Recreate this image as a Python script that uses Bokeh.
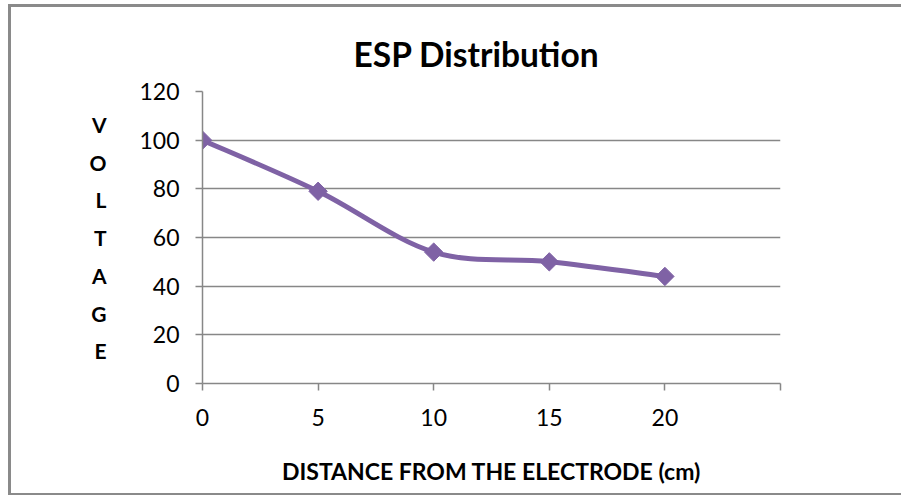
import numpy as np
from bokeh.plotting import figure
from bokeh.models import FixedTicker, Range1d
from bokeh.embed import file_html
from bokeh.resources import INLINE

# ---- data ----
distance = [0, 5, 10, 15, 20]
voltage = [100, 79, 54, 50, 44]
x_ticks = [0, 5, 10, 15, 20, 25]
y_ticks = [0, 20, 40, 60, 80, 100, 120]
title_text = "ESP Distribution"
x_label = "DISTANCE FROM THE ELECTRODE (cm)"
y_letters = ["V", "O", "L", "T", "A", "G", "E"]

FONT = "Lato"
GRID = "#878787"
PURPLE = "#7F62A5"
FRAME = "#8a8a8a"

FW, FH = 578, 292
XMIN, XMAX, YMIN, YMAX = 0, 25, 0, 120

p = figure(
    frame_width=FW, frame_height=FH,
    min_border_left=194, min_border_right=130,
    min_border_top=87, min_border_bottom=112,
    x_range=Range1d(XMIN, XMAX), y_range=Range1d(YMIN, YMAX),
    output_backend="svg", toolbar_location=None, title=title_text,
)
g = f"linear-gradient({FRAME},{FRAME})"
p.styles = {
    "position": "absolute", "left": "8px", "top": "4px",
    "background-color": "white",
    "background-image": f"{g}, {g}, {g}",
    "background-size": "3px 100%, 100% 3px, 100% 2px",
    "background-position": "left top, left top, left bottom",
    "background-repeat": "no-repeat",
}
p.outline_line_color = None
p.background_fill_color = "white"
p.border_fill_color = None

# title
p.title.text_font = FONT
p.title.text_font_style = "bold"
p.title.text_font_size = "33.5px"
p.title.text_color = "black"
p.title.align = "left"
p.title.offset = 151
p.title.standoff = 36

# grid
p.xgrid.grid_line_color = None
p.ygrid.grid_line_color = GRID
p.ygrid.grid_line_width = 1.5
p.ygrid.ticker = FixedTicker(ticks=y_ticks)

# x axis
p.xaxis.ticker = FixedTicker(ticks=x_ticks)
p.xaxis.major_label_overrides = {25: ""}
p.xaxis.axis_line_color = GRID
p.xaxis.axis_line_width = 1.5
p.xaxis.major_tick_line_color = GRID
p.xaxis.major_tick_line_width = 1.5
p.xaxis.major_tick_in = 0
p.xaxis.major_tick_out = 7
p.xaxis.minor_tick_line_color = None
p.xaxis.major_label_text_font = FONT
p.xaxis.major_label_text_font_size = "23px"
p.xaxis.major_label_text_color = "black"
p.xaxis.major_label_standoff = 18
p.xaxis.axis_label = x_label
p.xaxis.axis_label_text_font = FONT
p.xaxis.axis_label_text_font_style = "bold"
p.xaxis.axis_label_text_font_size = "23px"
p.xaxis.axis_label_text_color = "black"
p.xaxis.axis_label_standoff = 28

# y axis
p.yaxis.ticker = FixedTicker(ticks=y_ticks)
p.yaxis.axis_line_color = GRID
p.yaxis.axis_line_width = 1.5
p.yaxis.major_tick_line_color = GRID
p.yaxis.major_tick_line_width = 1.5
p.yaxis.major_tick_in = 0
p.yaxis.major_tick_out = 7
p.yaxis.minor_tick_line_color = None
p.yaxis.major_label_text_font = FONT
p.yaxis.major_label_text_font_size = "23px"
p.yaxis.major_label_text_color = "black"
p.yaxis.major_label_standoff = 16
p.yaxis.axis_label = "\n".join(y_letters)
p.yaxis.axis_label_orientation = "horizontal"
p.yaxis.axis_label_text_font = FONT
p.yaxis.axis_label_text_font_style = "bold"
p.yaxis.axis_label_text_font_size = "21px"
p.yaxis.axis_label_text_line_height = 1.51
p.yaxis.axis_label_text_color = "black"
p.yaxis.axis_label_standoff = 30

# smoothed line (Catmull-Rom style Bezier through data points)
xs = np.array(distance, float)
ys = np.array(voltage, float)
n = len(xs)
def pt(i):
    i = min(max(i, 0), n - 1)
    return xs[i], ys[i]
b = {k: [] for k in ["x0", "y0", "x1", "y1", "cx0", "cy0", "cx1", "cy1"]}
for i in range(n - 1):
    xa, ya = pt(i); xb, yb = pt(i + 1); xp, yp = pt(i - 1); xn, yn = pt(i + 2)
    b["x0"].append(xa); b["y0"].append(ya)
    b["x1"].append(xb); b["y1"].append(yb)
    b["cx0"].append(xa + (xb - xp) / 6); b["cy0"].append(ya + (yb - yp) / 6)
    b["cx1"].append(xb - (xn - xa) / 6); b["cy1"].append(yb - (yn - ya) / 6)
p.bezier(x0=b["x0"], y0=b["y0"], x1=b["x1"], y1=b["y1"],
         cx0=b["cx0"], cy0=b["cy0"], cx1=b["cx1"], cy1=b["cy1"],
         line_color=PURPLE, line_width=5, line_cap="round")
p.scatter(distance, voltage, marker="square", size=13, angle=np.pi / 4,
          fill_color=PURPLE, line_color=PURPLE)

open("out.html", "w").write(file_html(p, INLINE))
